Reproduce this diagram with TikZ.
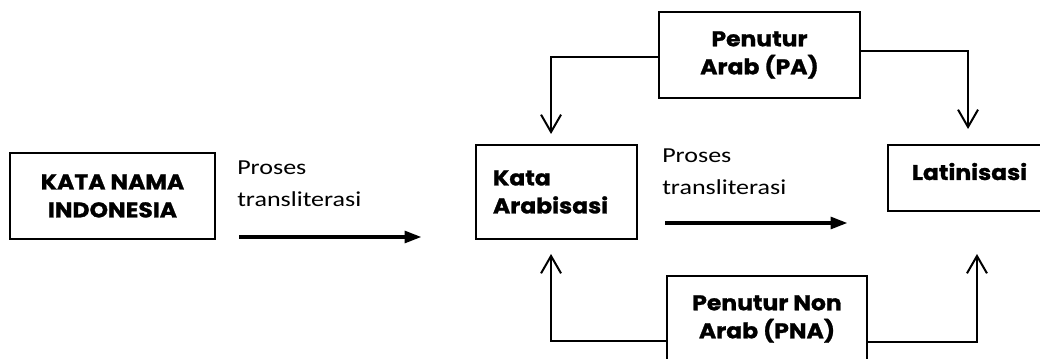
\documentclass[tikz,border=0pt]{standalone}
\usepackage{fontspec}
\newfontfamily\headfont{Poppins}[FakeStretch=1.1, BoldFeatures={FakeBold=1.2}]
\newfontfamily\procfont{Carlito}[FakeStretch=1.22]
\usetikzlibrary{arrows.meta}

\begin{document}
\begin{tikzpicture}[
  x=0.75pt, y=-0.75pt,
  box/.style={rectangle, draw=black, line width=1.5pt, align=center, inner sep=0pt, font=\headfont\bfseries\fontsize{16pt}{21pt}\selectfont},
  proc/.style={align=left, inner sep=0pt, anchor=north west, font=\procfont\fontsize{16pt}{23.5pt}\selectfont},
  procarrow/.style={line width=3.2pt, -{Triangle[length=13pt, width=8.5pt]}},
  barb/.style={line width=1.5pt, -{Straight Barb[length=13pt, width=15pt]}}
]
\useasboundingbox (0,0) rectangle (1040,359);
\clip (0,0) rectangle (1040,359);

% Boxes placed at coordinates
\node[box, minimum width=153.75pt, minimum height=64.5pt] (kni) at (112.5,196) {KATA NAMA\\INDONESIA};
\node[box, align=left, text width=95.25pt, inner xsep=12.75pt, minimum height=70.5pt] (ka) at (556.5,192) {Kata\\Arabisasi};
\node[box, minimum width=122.25pt, text height=26.25pt, text depth=23.25pt, anchor=base] (lat) at (969.5,180) {Latinisasi};
\node[box, minimum width=150.75pt, minimum height=64.5pt] (pa) at (759.5,55) {Penutur\\Arab (PA)};
\node[box, minimum width=150pt, minimum height=64.5pt] (pna) at (767,319) {Penutur Non\\Arab (PNA)};

% Transliteration steps
\coordinate (p1s) at (239,237);
\coordinate (p1e) at (422,237);
\coordinate (p2s) at (665,223);
\coordinate (p2e) at (848,223);
\node[proc] (t1) at (237,161) {Proses\\transliterasi};
\node[proc] (t2) at (662,149) {Proses\\transliterasi};
\draw[procarrow] (p1s) -- (p1e);
\draw[procarrow] (p2s) -- (p2e);

% Speakers feeding both word forms
\draw[barb, shorten >=7.5pt] ([yshift=-1.5pt]pa.west) -| ([xshift=-4.1pt]ka.north);
\draw[barb, shorten >=11.25pt] ([yshift=3pt]pa.east) -| ([xshift=-1.1pt]lat.north);
\draw[barb, shorten >=10.5pt] ([yshift=-16.5pt]pna.west) -| ([xshift=-4.1pt]ka.south);
\draw[barb, shorten >=31.5pt] ([yshift=-17.25pt]pna.east) -| ([xshift=5.6pt]lat.south);

\end{tikzpicture}
\end{document}
